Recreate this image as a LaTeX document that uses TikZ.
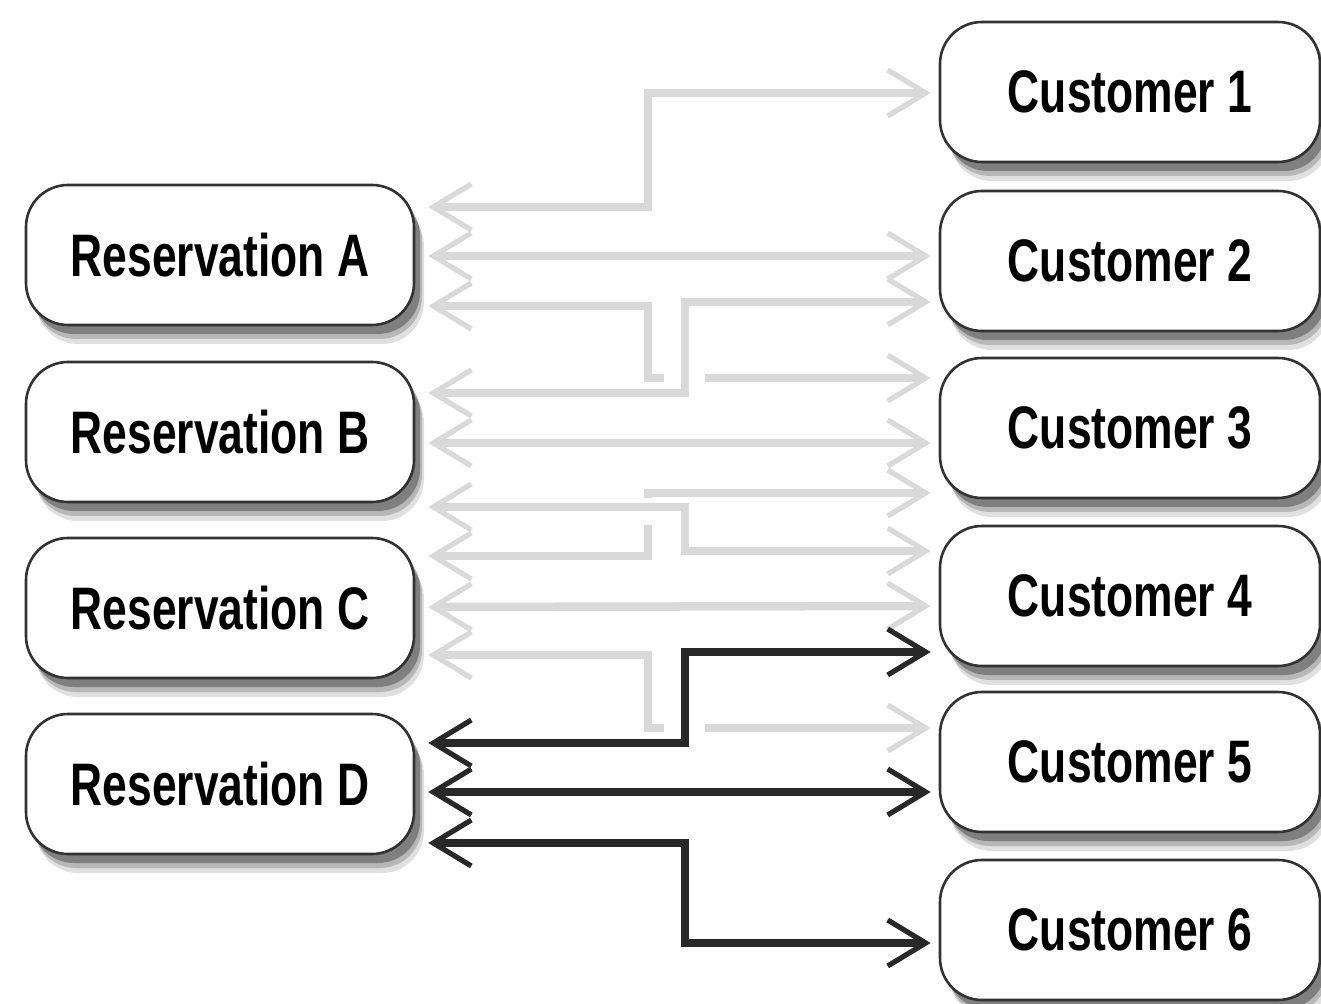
\documentclass[tikz,border=0pt]{standalone}
\usepackage{fontspec}
\newfontfamily\labelfont[FakeStretch=0.74]{Liberation Sans}
\usetikzlibrary{arrows.meta,calc}
\definecolor{linegray}{RGB}{217,217,217}
\definecolor{linedark}{RGB}{40,40,40}
\definecolor{boxline}{RGB}{50,50,50}
\tikzset{
  box/.style={draw=boxline, line width=1.3pt, rounded corners=21pt, fill=white,
    inner sep=0pt, minimum height=70pt, text=black,
    font=\labelfont\bfseries\fontsize{30}{36}\selectfont,
    preaction={fill=black, fill opacity=0.12, transform canvas={shift={(5pt,-9.5pt)}}},
    preaction={fill=black, fill opacity=0.18, transform canvas={shift={(4pt,-7pt)}}},
    preaction={fill=black, fill opacity=0.30, transform canvas={shift={(3pt,-4.5pt)}}}},
  resbox/.style={box, minimum width=194pt},
  custbox/.style={box, minimum width=190pt},
  chev/.tip={Straight Barb[length=19pt, width=23pt, line width=2.6pt]},
  gconn/.style={draw=linegray, line width=4.25pt, {chev}-{chev}},
  bconn/.style={draw=linedark, line width=4pt, {chev}-{chev}},
  eraser/.style={draw=white, line width=6.5pt}
}
\begin{document}
\begin{tikzpicture}[x=0.5pt,y=-0.5pt]
\useasboundingbox[fill=white] (0,0) rectangle (1321,1004);

% boxes
\node[resbox] (resA) at (220,255) {Reservation A};
\node[resbox] (resB) at (220,432) {Reservation B};
\node[resbox] (resC) at (220,608) {Reservation C};
\node[resbox] (resD) at (220,784) {Reservation D};

\node[custbox] (cust1) at (1130,92) {Customer 1};
\node[custbox] (cust2) at (1130,261) {Customer 2};
\node[custbox] (cust3) at (1130,428) {Customer 3};
\node[custbox] (cust4) at (1130,596) {Customer 4};
\node[custbox] (cust5) at (1130,762) {Customer 5};
\node[custbox] (cust6) at (1130,930) {Customer 6};

% ports on reservations
\coordinate (pA1) at ($(resA.east)+(13,-48)$);
\coordinate (pA2) at ($(resA.east)+(13,1)$);
\coordinate (pA3) at ($(resA.east)+(13,51)$);
\coordinate (pB1) at ($(resB.east)+(13,-39)$);
\coordinate (pB2) at ($(resB.east)+(13,11)$);
\coordinate (pB3) at ($(resB.east)+(13,75)$);
\coordinate (pC1) at ($(resC.east)+(13,-52)$);
\coordinate (pC2) at ($(resC.east)+(13,-1)$);
\coordinate (pC3) at ($(resC.east)+(13,47)$);
\coordinate (pD1) at ($(resD.east)+(13,-41)$);
\coordinate (pD2) at ($(resD.east)+(13,8)$);
\coordinate (pD3) at ($(resD.east)+(13,59)$);

% ports on customers
\coordinate (q11) at ($(cust1.west)+(-8,1)$);
\coordinate (q21) at ($(cust2.west)+(-8,-5)$);
\coordinate (q22) at ($(cust2.west)+(-8,41)$);
\coordinate (q31) at ($(cust3.west)+(-8,-50)$);
\coordinate (q32) at ($(cust3.west)+(-8,15)$);
\coordinate (q33) at ($(cust3.west)+(-8,65)$);
\coordinate (q41) at ($(cust4.west)+(-8,-45)$);
\coordinate (q42) at ($(cust4.west)+(-8,10)$);
\coordinate (q43) at ($(cust4.west)+(-8,56)$);
\coordinate (q51) at ($(cust5.west)+(-8,-34)$);
\coordinate (q52) at ($(cust5.west)+(-8,30)$);
\coordinate (q61) at ($(cust6.west)+(-8,13)$);

% gray connectors
\draw[gconn] (pA1) -| (648,150) |- (q11);
\draw[gconn] (pA2) -- (q21);
\draw[gconn] (pA3) -| (648,340) |- (q31);
\draw[eraser] (664,378) -- (705,378);
\draw[gconn] (pB1) -| (685,350) |- (q22);
\draw[gconn] (pB2) -- (q32);
\draw[gconn] (pC1) -| (648,520) |- (q33);
\draw[eraser] (648,498) -- (648,525);
\draw[gconn] (pB3) -| (685,530) |- (q41);
\draw[gconn] (pC2) -- (q42);
\draw[gconn] (pC3) -| (648,700) |- (q51);
\draw[eraser] (664,728) -- (705,728);

% dark connectors
\draw[bconn] (pD1) -| (685,700) |- (q43);
\draw[bconn] (pD2) -- (q52);
\draw[bconn] (pD3) -| (685,900) |- (q61);
\end{tikzpicture}
\end{document}
